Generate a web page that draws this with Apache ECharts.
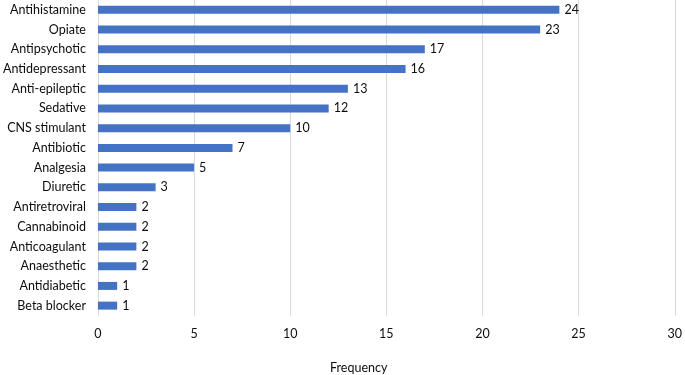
<!DOCTYPE html>
<html><head><meta charset="utf-8">
<script src="https://cdn.jsdelivr.net/npm/echarts@6/dist/echarts.min.js"></script>
<style>html,body{margin:0;padding:0;background:#fff}#c{width:685px;height:375px}</style>
</head><body><div id="c"></div>
<script>
const categories = ["Antihistamine","Opiate","Antipsychotic","Antidepressant","Anti-epileptic","Sedative","CNS stimulant","Antibiotic","Analgesia","Diuretic","Antiretroviral","Cannabinoid","Anticoagulant","Anaesthetic","Antidiabetic","Beta blocker"];
const frequency = [24,23,17,16,13,12,10,7,5,3,2,2,2,2,1,1];
const xTicks = [0,5,10,15,20,25,30];
const axisName = "Frequency";

const chart = echarts.init(document.getElementById('c'), null, {renderer:'canvas'});
const font = 'Lato, "Open Sans", sans-serif';
chart.setOption({
  animation:false,
  grid:{left:97.5, right:6.5, top:0, bottom:59.5, containLabel:false},
  xAxis:{type:'value', min:xTicks[0], max:xTicks[xTicks.length-1], interval:5,
    axisLine:{show:false}, axisTick:{show:false},
    splitLine:{show:true, lineStyle:{color:'#d9d9d9', width:1}},
    axisLabel:{margin:12, color:'#0d0d0d', fontSize:12.5, fontFamily:font}},
  yAxis:{type:'category', data:categories, inverse:true,
    axisLine:{show:false}, axisTick:{show:false},
    axisLabel:{margin:12, color:'#0d0d0d', fontSize:12.5, fontFamily:font}},
  series:[{type:'bar', data:frequency, barWidth:8,
    itemStyle:{color:'#4472C4'},
    label:{show:true, position:'right', distance:5, color:'#0d0d0d', fontSize:12.5, fontFamily:font}}],
  graphic:[{type:'text', left:330, top:361, style:{text:axisName, fill:'#0d0d0d', font:'12.5px '+font}}]
});
</script></body></html>
